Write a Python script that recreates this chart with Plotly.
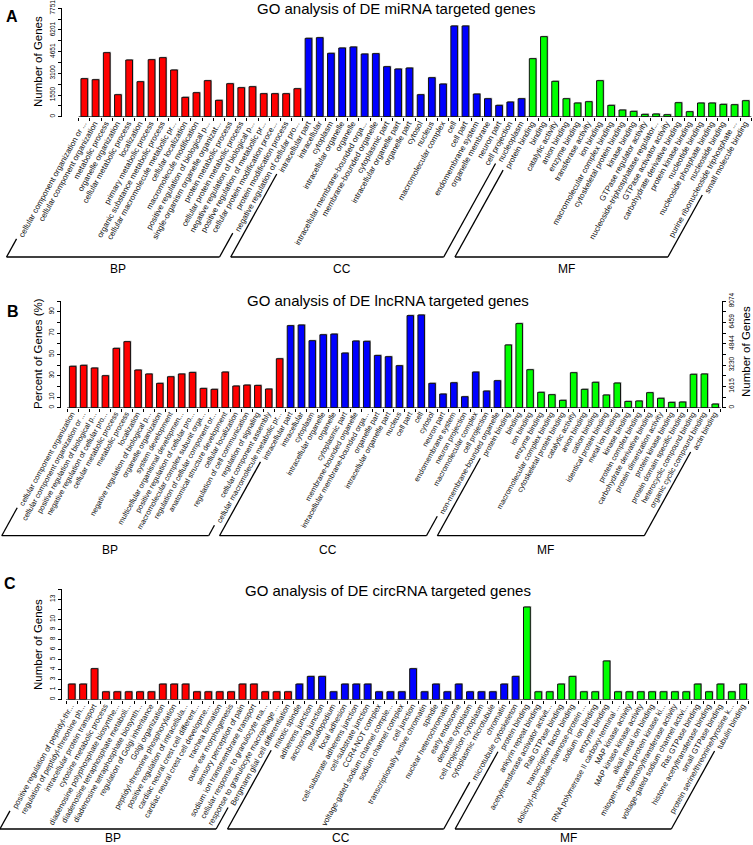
import math
import plotly.graph_objects as go

W, H = 753, 845
FONT = "Liberation Sans, Arial, Helvetica, sans-serif"
RED, BLUE, GREEN = "#FF0000", "#0000FF", "#00FF00"

# ---------------- Panel A: miRNA ----------------
A_bp_labels = ["cellular component organization or ...", "cellular component organization", "metabolic process",
               "organelle organization", "cellular metabolic process", "localization", "primary metabolic process",
               "organic substance metabolic process", "cellular macromolecule metabolic pr...", "cellular localization",
               "macromolecule modification", "positive regulation of biological p...",
               "single-organism organelle organizat...", "protein metabolic process",
               "cellular protein metabolic process", "negative regulation of biological p...",
               "positive regulation of metabolic pr...", "cellular protein modification proce...",
               "protein modification process", "negative regulation of cellular pro..."]
A_bp_values = [2719, 2647, 4579, 1574, 4054, 2504, 4078, 4221, 3339, 1383,
               1717, 2576, 1169, 2361, 2075, 2146, 1646, 1646, 1646, 2003]
A_cc_labels = ["intracellular part", "intracellular", "cytoplasm", "intracellular organelle", "organelle",
               "intracellular membrane-bounded orga...", "membrane-bounded organelle", "cytoplasmic part",
               "intracellular organelle part", "organelle part", "cytosol", "nucleus", "macromolecular complex",
               "cell", "cell part", "endomembrane system", "organelle membrane", "neuron part", "cell projection",
               "nucleoplasm"]
A_cc_values = [5604, 5652, 4531, 4913, 4985, 4484, 4508, 3578, 3411, 3482,
               1574, 2790, 2337, 6488, 6488, 1622, 1288, 811, 1049, 1288]
A_mf_labels = ["protein binding", "binding", "catalytic activity", "anion binding", "enzyme binding",
               "transferase activity", "ion binding", "macromolecular complex binding",
               "cytoskeletal protein binding", "kinase binding", "GTPase regulator activity",
               "nucleoside-triphosphatase regulator...", "GTPase activator activity",
               "carbohydrate derivative binding", "protein kinase binding", "nucleotide binding",
               "nucleoside phosphate binding", "nucleoside binding", "purine ribonucleoside triphosphate ...",
               "small molecule binding"]
A_mf_values = [4150, 5724, 2528, 1288, 978, 1073, 2576, 811, 477, 382,
               167, 191, 143, 1002, 358, 978, 978, 882, 859, 1145]
A_ymax = 7751
A_tickvals = [A_ymax * k / 10 for k in range(11)]
A_ticktext = ["0", "", "1550", "", "3100", "", "4651", "", "6201", "", "7751"]

# ---------------- Panel B: lncRNA ----------------
B_bp_labels = ["cellular component organization", "cellular component organization or ...",
               "positive regulation of biological p...", "negative regulation of cellular pro...",
               "cellular metabolic process", "metabolic process", "localization",
               "negative regulation of biological p...", "organelle organization", "system development",
               "multicellular organismal developmen...", "positive regulation of cellular pro...",
               "macromolecular complex subunit orga...", "regulation of cellular component or...",
               "anatomical structure development", "cellular localization", "regulation of cell communication",
               "regulation of signaling", "cellular component assembly", "cellular macromolecule metabolic pr..."]
B_bp_values = [38.8, 39.7, 37.2, 30.0, 55.6, 61.9, 35.3, 31.6, 22.8, 29.0,
               31.6, 33.1, 18.1, 17.2, 33.4, 20.3, 21.2, 20.9, 17.5, 45.9]
B_cc_labels = ["intracellular part", "intracellular", "cytoplasm", "intracellular organelle", "organelle",
               "cytoplasmic part", "membrane-bounded organelle", "intracellular membrane-bounded orga...",
               "organelle part", "intracellular organelle part", "nucleus", "cell part", "cell", "cytosol",
               "neuron part", "endomembrane system", "neuron projection", "macromolecular complex",
               "cell projection", "non-membrane-bounded organelle"]
B_cc_values = [76.9, 77.5, 62.8, 68.4, 69.0, 51.2, 62.5, 62.2, 49.0, 47.8,
               39.4, 86.3, 86.9, 22.8, 12.8, 23.4, 10.3, 33.4, 15.6, 25.3]
B_mf_labels = ["protein binding", "binding", "ion binding", "enzyme binding", "macromolecular complex binding",
               "cytoskeletal protein binding", "catalytic activity", "anion binding", "cation binding",
               "identical protein binding", "metal ion binding", "kinase binding", "protein complex binding",
               "carbohydrate derivative binding", "protein dimerization activity", "protein kinase binding",
               "protein domain specific binding", "heterocyclic compound binding",
               "organic cyclic compound binding", "actin binding"]
B_mf_values = [58.8, 78.8, 35.6, 14.4, 12.2, 6.9, 32.8, 17.2, 23.8, 11.9,
               23.1, 5.9, 6.3, 14.1, 8.8, 5.0, 5.3, 31.3, 31.6, 3.4]
B_pct_tickvals = [10 * k for k in range(11)]
B_pct_ticktext = ["0", "10", "", "30", "", "50", "", "70", "", "90", ""]
B_total = 8074
B_num_tickvals = [B_total * k / 10 for k in range(11)]
B_num_ticktext = ["0", "", "1615", "", "3230", "", "4844", "", "6459", "", "8074"]

# ---------------- Panel C: circRNA ----------------
C_bp_labels = ["positive regulation of peptidyl-thr...", "regulation of peptidyl-threonine ph...",
               "intracellular protein transport", "cytosine metabolic process",
               "diadenosine polyphosphate biosynthe...", "diadenosine tetraphosphate metaboli...",
               "diadenosine tetraphosphate biosynth...", "regulation of Golgi inheritance", "Golgi organization",
               "peptidyl-threonine phosphorylation", "positive regulation of intracellula...",
               "cardiac neural crest cell different...", "cardiac neural crest cell developme...",
               "trachea formation", "outer ear morphogenesis", "sensory perception of pain",
               "sodium ion transmembrane transport", "cellular response to granulocyte ma...",
               "response to granulocyte macrophage ...", "Bergmann glial cell differentiation"]
C_bp_values = [2, 2, 4, 1, 1, 1, 1, 1, 2, 2, 2, 1, 1, 1, 1, 2, 2, 1, 1, 1]
C_cc_labels = ["mitotic spindle", "adherens junction", "anchoring junction", "pseudopodium", "focal adhesion",
               "cell-substrate adherens junction", "cell-substrate junction", "CCR4-NOT complex",
               "voltage-gated sodium channel comple...", "sodium channel complex", "cell junction",
               "transcriptionally active chromatin", "spindle", "nuclear heterochromatin", "early endosome",
               "dendrite cytoplasm", "cell projection cytoplasm", "cytoplasmic microtubule", "chromatin",
               "microtubule cytoskeleton"]
C_cc_values = [2, 3, 3, 1, 2, 2, 2, 1, 1, 1, 4, 1, 2, 1, 2, 1, 1, 1, 2, 3]
C_mf_labels = ["protein binding", "ankyrin repeat binding", "acetyltransferase activator activit...",
               "Rab GTPase binding", "transcription factor binding", "dolichyl-phosphate-mannose-protein ...",
               "sodium ion binding", "enzyme binding", "RNA polymerase II carboxy-terminal ...",
               "MAP kinase activity", "MAP kinase kinase activity", "alkali metal ion binding",
               "mitogen-activated protein kinase ki...", "mannosyltransferase activity",
               "voltage-gated sodium channel activi...", "Ras GTPase binding",
               "histone acetyltransferase binding", "small GTPase binding",
               "protein serine/threonine/tyrosine k...", "tubulin binding"]
C_mf_values = [12, 1, 1, 2, 3, 1, 1, 5, 1, 1, 1, 1, 1, 1, 1, 2, 1, 2, 1, 2]
C_tickvals = [1.3 * k for k in range(12)]
C_ticktext = ["0", "1", "3", "4", "5", "6", "8", "9", "10", "", "13", ""]

GROUPS = ["BP", "CC", "MF"]
COLORS = [RED, BLUE, GREEN]

# ---------------- helpers ----------------
CW = {' ': 278, '-': 333, '.': 278, '/': 278, '(': 333, ')': 333, '%': 889, 'A': 667, 'B': 667, 'C': 722,
      'D': 722, 'E': 667, 'F': 611, 'G': 778, 'I': 278, 'M': 833, 'N': 722, 'O': 778, 'P': 667, 'R': 722,
      'T': 611, 'a': 556, 'b': 556, 'c': 500, 'd': 556, 'e': 556, 'f': 278, 'g': 556, 'h': 556, 'i': 222,
      'j': 222, 'k': 500, 'l': 222, 'm': 833, 'n': 556, 'o': 556, 'p': 556, 'q': 556, 'r': 333, 's': 500,
      't': 278, 'u': 556, 'v': 500, 'w': 722, 'x': 500, 'y': 500, 'z': 500}


def text_w(s, size):
    return sum(CW.get(ch, 556) for ch in s) / 1000.0 * size


def fx(p):
    return p / W


def fy(p):
    return 1 - p / H


ANG = 61.0
TK = math.tan(math.radians(ANG))
SN = math.sin(math.radians(ANG))

fig = go.Figure()
shapes, annotations = [], []
layout_axes = {}

YTICK = dict(ticks="outside", ticklen=3, tickwidth=1, tickcolor="black", showline=True, linecolor="black",
             linewidth=1, showgrid=False, zeroline=False, automargin=False, fixedrange=True, tickangle=-90,
             ticklabeloverflow="allow", tickfont=dict(size=6.5, family=FONT, color="black"))


def panel(xid, yid, letter, title, labels_groups, values_groups, cfg):
    x_key = "xaxis" if xid == "x" else "xaxis" + xid[1:]
    y_key = "yaxis" if yid == "y" else "yaxis" + yid[1:]

    labels = sum(labels_groups, [])
    nb = len(labels)
    c0, s = cfg["c0"], cfg["s"]
    yl, xr = cfg["yl"], cfg["xr"]
    y0, ytop = cfg["y0"], cfg["ytop"]

    # bars (gray drop shadow + coloured bar)
    start = 0
    for vals, col in zip(values_groups, COLORS):
        xs = list(range(start, start + len(vals)))
        dx = 1.0 / s
        dy = cfg["ymax"] / (y0 - ytop)
        fig.add_trace(go.Bar(x=[x + dx for x in xs], y=[v + dy for v in vals], width=0.6,
                             marker=dict(color="#a8a8a8", line=dict(width=0)),
                             xaxis=xid, yaxis=yid, hoverinfo="skip"))
        fig.add_trace(go.Bar(x=xs, y=vals, width=0.6,
                             marker=dict(color=col, line=dict(color="#111111", width=1)),
                             xaxis=xid, yaxis=yid))
        start += len(vals)

    lab_shift = -1.0 / s  # labels sit ~1 px left of the plotly default
    layout_axes[x_key] = dict(domain=[fx(yl), fx(xr)], range=[(yl - c0) / s, (xr - c0) / s],
                              anchor=yid, tickmode="array", tickvals=[i + lab_shift for i in range(nb)],
                              ticktext=labels, tickangle=-ANG,
                              tickfont=dict(size=cfg["lfs"], family=FONT, color="#111"),
                              showline=False, ticks="outside", ticklen=0, showgrid=False, zeroline=False,
                              minor=dict(tickmode="array", tickvals=[i - 0.5 for i in range(nb + 1)],
                                         ticks="outside", ticklen=3, tickwidth=1, tickcolor="black",
                                         showgrid=False),
                              ticklabeloverflow="allow",
                              automargin=False, fixedrange=True, ticklabelstandoff=-2)
    layout_axes[y_key] = dict(domain=[fy(y0), fy(ytop)], range=[0, cfg["ymax"]], anchor=xid,
                              tickmode="array", tickvals=cfg["tv"], ticktext=cfg["tt"], **YTICK)
    # x axis line spanning the bar slots only (as in the original R barplot)
    shapes.append(dict(type="line", xref=xid, yref=yid, x0=-0.5, x1=nb - 0.5, y0=0, y1=0,
                       line=dict(color="black", width=1)))

    # titles
    annotations.append(dict(text=title, x=fx(cfg["tx"]), y=fy(cfg["ty"]), xref="paper", yref="paper",
                            showarrow=False, xanchor="center", yanchor="middle",
                            font=dict(size=15, family=FONT, color="black")))
    annotations.append(dict(text=f"<b>{letter}</b>", x=fx(cfg["lx"]), y=fy(cfg["ly"]), xref="paper",
                            yref="paper", showarrow=False, xanchor="center", yanchor="middle",
                            font=dict(size=16, family=FONT, color="black")))
    annotations.append(dict(text=cfg["ytitle"], x=fx(38), y=fy(cfg["yty"]), xref="paper", yref="paper",
                            showarrow=False, textangle=-90, xanchor="center", yanchor="middle",
                            font=dict(size=11.5, family=FONT, color="black")))

    # group brackets
    yb = cfg["yb"]
    start = 0
    for g, labs in zip(GROUPS, labels_groups):
        f, l = start, start + len(labs) - 1
        cf, cl = c0 + s * f, c0 + s * l
        xL = cf - (yb - y0) / TK
        xR = cl - (yb - y0) / TK
        shapes.append(dict(type="line", xref="paper", yref="paper", x0=fx(xL), y0=fy(yb), x1=fx(xR),
                           y1=fy(yb), line=dict(color="black", width=1.3)))
        for c, lab in ((cf, labs[0]), (cl, labs[-1])):
            L = text_w(lab, cfg["lfs"])
            yt = y0 + 4 + (L + 4) * SN
            xt_ = c - (yt - y0) / TK
            xb = c - (yb - y0) / TK
            shapes.append(dict(type="line", xref="paper", yref="paper", x0=fx(xb), y0=fy(yb), x1=fx(xt_),
                               y1=fy(yt), line=dict(color="black", width=1.3)))
        annotations.append(dict(text=g, x=fx((xL + xR) / 2 + 5), y=fy(cfg["yg"]), xref="paper",
                                yref="paper", showarrow=False, xanchor="center", yanchor="middle",
                                font=dict(size=12, family=FONT, color="black")))
        start += len(labs)


panel("x", "y", "A", "GO analysis of DE miRNA targeted genes",
      [A_bp_labels, A_cc_labels, A_mf_labels], [A_bp_values, A_cc_values, A_mf_values],
      dict(c0=84.3, s=11.21, yl=62, xr=753, y0=116.7, ytop=8.3, ymax=A_ymax,
           tv=A_tickvals, tt=A_ticktext, lfs=8, tx=396, ty=9, lx=12, ly=16, ytitle="Number of Genes",
           yty=62, yb=257, yg=268.5))

panel("x2", "y2", "B", "GO analysis of DE lncRNA targeted genes",
      [B_bp_labels, B_cc_labels, B_mf_labels], [B_bp_values, B_cc_values, B_mf_values],
      dict(c0=72.7, s=10.89, yl=61, xr=722.3, y0=407.7, ytop=301, ymax=100,
           tv=B_pct_tickvals, tt=B_pct_ticktext, lfs=7.5, tx=388, ty=300, lx=13, ly=311,
           ytitle="Percent of Genes (%)", yty=354, yb=535.7, yg=550))

panel("x3", "y4", "C", "GO analysis of DE circRNA targeted genes",
      [C_bp_labels, C_cc_labels, C_mf_labels], [C_bp_values, C_cc_values, C_mf_values],
      dict(c0=71.7, s=11.38, yl=61.7, xr=753, y0=699.5, ytop=589.3, ymax=14.3,
           tv=C_tickvals, tt=C_ticktext, lfs=7.8, tx=388, ty=590, lx=10, ly=583,
           ytitle="Number of Genes", yty=645, yb=829, yg=837.5))

# right axis for panel B (number of genes; 100 % = B_total genes)
fig.add_trace(go.Scatter(x=[None], y=[None], xaxis="x2", yaxis="y3", showlegend=False, hoverinfo="skip"))
layout_axes["yaxis3"] = dict(domain=[fy(407.7), fy(301)], range=[0, B_total], anchor="x2", overlaying="y2",
                             side="right", tickmode="array", tickvals=B_num_tickvals, ticktext=B_num_ticktext,
                             **YTICK)
annotations.append(dict(text="Number of Genes", x=fx(746), y=fy(352), xref="paper", yref="paper",
                        showarrow=False, textangle=-90, xanchor="center", yanchor="middle",
                        font=dict(size=11.5, family=FONT, color="black")))

fig.update_layout(width=W, height=H, margin=dict(l=0, r=0, t=0, b=0), showlegend=False,
                  barmode="overlay", plot_bgcolor="rgba(0,0,0,0)", paper_bgcolor="white",
                  font=dict(family=FONT, color="black"), shapes=shapes, annotations=annotations,
                  **layout_axes)
fig.write_html("out.html", config={"displayModeBar": False},
               post_script="document.body.style.margin='0';document.body.style.overflow='hidden';")
